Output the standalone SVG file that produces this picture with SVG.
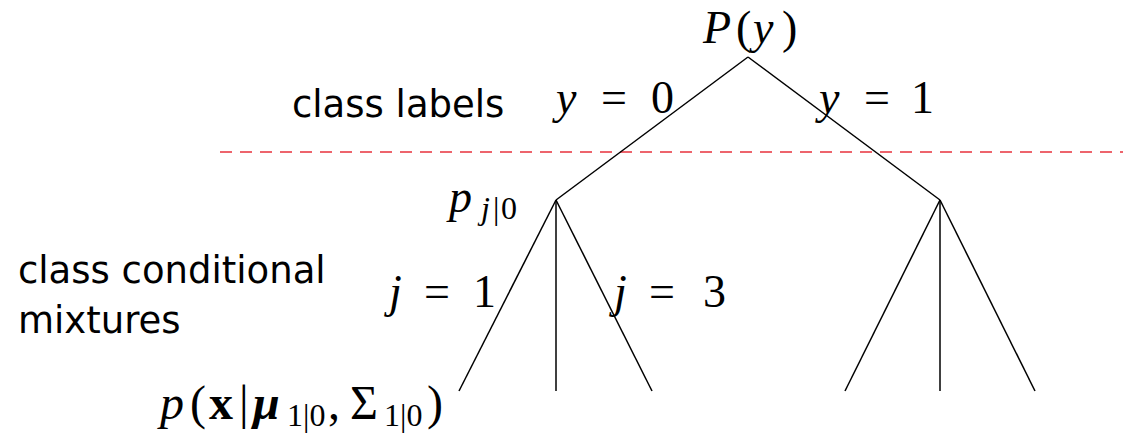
<svg xmlns="http://www.w3.org/2000/svg" width="1123" height="443" viewBox="0 0 1123 443">
<style>
.m{font-family:"Liberation Serif","DejaVu Serif",serif;font-size:46px;fill:#000}
.i{font-style:italic}
.s{font-family:"DejaVu Sans","Liberation Sans",sans-serif;font-size:37px;fill:#000}
.sub{font-size:32px}
.e{stroke:#000;stroke-width:1.5;fill:none}
</style>
<rect width="1123" height="443" fill="#fff"/>
<line x1="220" y1="152" x2="1123" y2="152" stroke="#e8323c" stroke-width="1.5" stroke-dasharray="12,8"/>
<g id="connectors">
<line class="e" x1="748" y1="57" x2="556" y2="200"/>
<line class="e" x1="748" y1="57" x2="940" y2="200"/>
<line class="e" x1="556" y1="200" x2="459" y2="391"/>
<line class="e" x1="556" y1="200" x2="556" y2="391"/>
<line class="e" x1="556" y1="200" x2="652" y2="391"/>
<line class="e" x1="940" y1="200" x2="845" y2="391"/>
<line class="e" x1="940" y1="200" x2="940" y2="391"/>
<line class="e" x1="940" y1="200" x2="1035" y2="391"/>
</g>
<g id="root"><text class="m" y="43"><tspan class="i" x="703">P</tspan><tspan x="736">(</tspan><tspan class="i" x="753">y</tspan><tspan x="782">)</tspan></text></g>
<g id="edge-labels">
<text class="m" y="113"><tspan class="i" x="556">y</tspan><tspan x="601">=</tspan><tspan x="651">0</tspan></text>
<text class="m" y="113"><tspan class="i" x="819">y</tspan><tspan x="864">=</tspan><tspan x="911">1</tspan></text>
<text class="m" y="307"><tspan class="i" x="389">j</tspan><tspan x="424">=</tspan><tspan x="473">1</tspan></text>
<text class="m" y="307"><tspan class="i" x="614">j</tspan><tspan x="649">=</tspan><tspan x="703">3</tspan></text>
</g>
<g id="mixture-node"><text class="m" y="212"><tspan class="i" x="449">p</tspan><tspan class="sub i" x="481" dy="7">j</tspan><tspan class="sub" x="493">|</tspan><tspan class="sub" x="501">0</tspan></text></g>
<g id="leaf"><text class="m" y="419" style="font-size:48px"><tspan class="i" x="160">p</tspan><tspan x="190">(</tspan><tspan font-weight="bold" x="209">x</tspan><tspan x="239">|</tspan><tspan class="i" font-weight="bold" x="253">μ</tspan><tspan class="sub" x="287" dy="7">1|0</tspan><tspan x="328" dy="-7">,</tspan><tspan x="350">Σ</tspan><tspan class="sub" x="384" dy="7">1|0</tspan><tspan x="427" dy="-7">)</tspan></text></g>
<g id="side-labels">
<text class="s" x="292" y="117">class labels</text>
<text class="s" x="18" y="283">class conditional</text>
<text class="s" x="18" y="333">mixtures</text>
</g>
</svg>
